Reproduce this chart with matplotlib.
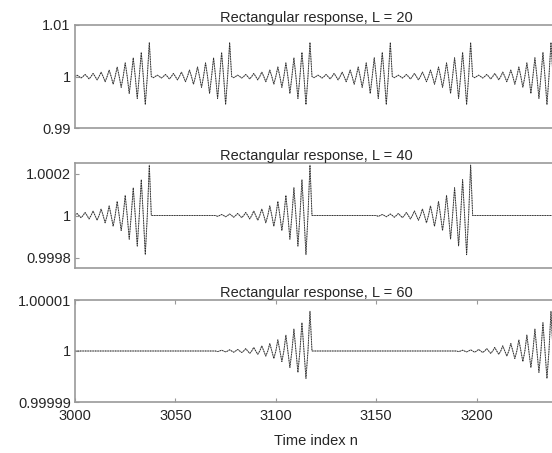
import numpy as np
import matplotlib
matplotlib.use("Agg")
import matplotlib.pyplot as plt

plt.rcParams['font.family'] = ['Liberation Sans', 'DejaVu Sans']

# time axis shown in the figure
n_start, n_stop = 3000, 3240

# burst shape: per cycle (4 samples) one down spike and one up spike,
# listed from the last (largest) cycle backwards, normalised to the largest spike
up_rel = [1.0, 0.71, 0.55, 0.40, 0.28, 0.19, 0.13, 0.09, 0.06, 0.04, 0.03, 0.02]
down_rel = [0.91, 0.71, 0.55, 0.35, 0.25, 0.17, 0.11, 0.08, 0.05, 0.04, 0.03, 0.02]

titles = ["Rectangular response, L = 20",
          "Rectangular response, L = 40",
          "Rectangular response, L = 60"]
burst_ends = [[3037, 3077, 3117, 3157, 3197, 3237],
              [3037, 3117, 3197],
              [3117, 3237]]
peak_up = [0.0066, 2.4e-4, 0.78e-5]
peak_down = [0.0060, 2.05e-4, 0.59e-5]
n_cycles = [10, 12, 12]
ylims = [(0.99, 1.01), (0.99975, 1.00025), (0.99999, 1.00001)]
yticks = [[0.99, 1.0, 1.01], [0.9998, 1.0, 1.0002], [0.99999, 1.0, 1.00001]]
yticklabels = [["0.99", "1", "1.01"], ["0.9998", "1", "1.0002"],
               ["0.99999", "1", "1.00001"]]
xticks = [3000, 3050, 3100, 3150, 3200]


def build_response(ends, up, down, cycles):
    n = np.arange(n_start - 60, n_stop + 1)
    y = np.ones(len(n))
    for e in ends:
        for c in range(cycles):
            i_up = e - 4 * c - n[0]
            i_dn = i_up - 2
            y[i_up] += up * up_rel[c]
            y[i_dn] -= down * down_rel[c]
    keep = n >= n_start
    return n[keep], y[keep]


fig = plt.figure(figsize=(5.52, 4.53), dpi=100)
W, H = 552.0, 453.0
left_px, right_px = 75, 557
boxes = [(25, 128), (163, 268), (300, 402)]
fs = 10.5

frame_col = '0.6'
for i in range(3):
    top, bot = boxes[i]
    ax = fig.add_axes([left_px / W, 1 - bot / H, (right_px - left_px) / W, (bot - top) / H])
    n, y = build_response(burst_ends[i], peak_up[i], peak_down[i], n_cycles[i])
    ax.plot(n, y, color='0.6', lw=0.7)
    ax.plot(n, y, color='0.15', lw=0.6, ls=(0, (1.5, 1.5)))
    ax.set_xlim(n_start, n_stop)
    ax.set_ylim(*ylims[i])
    ax.set_yticks(yticks[i])
    ax.set_yticklabels(yticklabels[i])
    ax.set_title(titles[i], fontsize=fs, pad=2, color='0.15')
    for s in ax.spines.values():
        s.set_color(frame_col)
        s.set_linewidth(1.2)
    ax.tick_params(direction='in', length=3, color=frame_col, labelsize=fs, pad=3,
                   labelcolor='0.15')
    if i < 2:
        ax.set_xticks([])
    else:
        ax.set_xticks(xticks)
        ax.tick_params(axis='x', top=True, pad=5)
        ax.set_xlabel("Time index n", fontsize=fs, labelpad=8, color='0.15')

fig.savefig("out.png", dpi=100)
